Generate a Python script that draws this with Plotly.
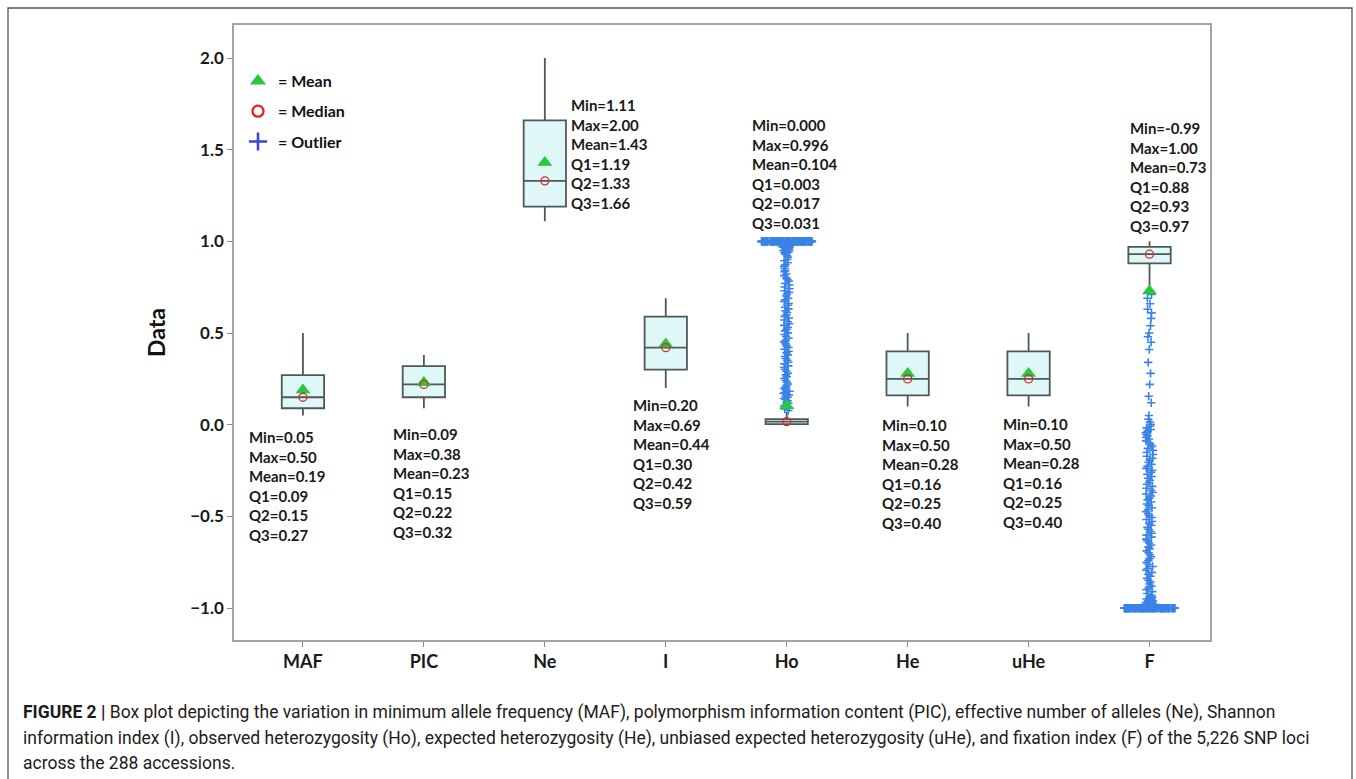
import plotly.graph_objects as go
import numpy as np

categories = ["MAF", "PIC", "Ne", "I", "Ho", "He", "uHe", "F"]

box_q1 = [0.09, 0.15, 1.19, 0.30, 0.003, 0.16, 0.16, 0.88]
box_median = [0.15, 0.22, 1.33, 0.42, 0.017, 0.25, 0.25, 0.93]
box_q3 = [0.27, 0.32, 1.66, 0.59, 0.031, 0.40, 0.40, 0.97]
whisker_low = [0.05, 0.09, 1.11, 0.20, 0.000, 0.10, 0.10, 0.75]
whisker_high = [0.50, 0.38, 2.00, 0.69, 0.07, 0.50, 0.50, 1.00]
means = [0.19, 0.23, 1.43, 0.44, 0.104, 0.28, 0.28, 0.73]

stat_min = ["0.05", "0.09", "1.11", "0.20", "0.000", "0.10", "0.10", "-0.99"]
stat_max = ["0.50", "0.38", "2.00", "0.69", "0.996", "0.50", "0.50", "1.00"]
stat_mean = ["0.19", "0.23", "1.43", "0.44", "0.104", "0.28", "0.28", "0.73"]
stat_q1 = ["0.09", "0.15", "1.19", "0.30", "0.003", "0.16", "0.16", "0.88"]
stat_q2 = ["0.15", "0.22", "1.33", "0.42", "0.017", "0.25", "0.25", "0.93"]
stat_q3 = ["0.27", "0.32", "1.66", "0.59", "0.031", "0.40", "0.40", "0.97"]

# Outliers, tied clusters given as value/count
ho_tie_values = [1.00, 0.99, 0.98, 0.97, 0.96, 0.95, 0.94]
ho_tie_counts = [130, 9, 7, 5, 4, 3, 2]
ho_column = [0.932, 0.921, 0.913, 0.902, 0.894, 0.883, 0.872, 0.864, 0.853, 0.842,
             0.834, 0.822, 0.813, 0.801, 0.792, 0.783, 0.771, 0.762, 0.751, 0.742,
             0.731, 0.722, 0.711, 0.702, 0.690, 0.681, 0.672, 0.661, 0.652, 0.641,
             0.632, 0.621, 0.612, 0.600, 0.591, 0.582, 0.571, 0.562, 0.551, 0.542,
             0.530, 0.521, 0.512, 0.501, 0.492, 0.481, 0.472, 0.461, 0.452, 0.441,
             0.430, 0.421, 0.412, 0.401, 0.392, 0.381, 0.372, 0.361, 0.352, 0.341,
             0.332, 0.321, 0.312, 0.301, 0.292, 0.281, 0.272, 0.261, 0.252, 0.241,
             0.232, 0.222, 0.214, 0.205, 0.198, 0.190, 0.183, 0.176, 0.170, 0.163,
             0.157, 0.150, 0.144, 0.138, 0.131, 0.124, 0.117, 0.110, 0.102, 0.094,
             0.086, 0.078]

f_tie_values = [-1.00, -0.99, -0.98, -0.97, -0.96, -0.95, -0.94]
f_tie_counts = [130, 9, 7, 5, 4, 3, 2]
f_column = [0.71, 0.69, 0.66, 0.63, 0.61, 0.58, 0.54, 0.50, 0.48, 0.45,
            0.41, 0.34, 0.28, 0.22, 0.155, 0.12, 0.05, 0.03, 0.015,
            0.002, -0.008, -0.017, -0.026, -0.035, -0.044, -0.052, -0.061, -0.070, -0.078,
            -0.088, -0.097, -0.107, -0.118, -0.129, -0.140, -0.151, -0.162, -0.172, -0.183,
            -0.194, -0.205, -0.216, -0.227, -0.238, -0.249, -0.260, -0.271, -0.282, -0.292,
            -0.303, -0.314, -0.325, -0.336, -0.346, -0.357, -0.368, -0.378, -0.389, -0.400,
            -0.410, -0.421, -0.432, -0.442, -0.453, -0.464, -0.474, -0.485, -0.496, -0.506,
            -0.517, -0.528, -0.538, -0.549, -0.560, -0.570, -0.581, -0.592, -0.602, -0.613,
            -0.624, -0.634, -0.645, -0.656, -0.666, -0.677, -0.688, -0.698, -0.709, -0.720,
            -0.730, -0.741, -0.752, -0.762, -0.773, -0.784, -0.794, -0.805, -0.816, -0.826,
            -0.837, -0.848, -0.858, -0.869, -0.880, -0.890, -0.900, -0.910, -0.920, -0.930]

caption_lines = [
    "<b>FIGURE 2 |</b> Box plot depicting the variation in minimum allele frequency (MAF), polymorphism information content (PIC), effective number of alleles (Ne), Shannon",
    "information index (I), observed heterozygosity (Ho), expected heterozygosity (He), unbiased expected heterozygosity (uHe), and fixation index (F) of the 5,226 SNP loci",
    "across the 288 accessions.",
]

W, H = 1356, 779
ML, MR, MT, MB = 234, 146, 25, 139
PW, PH = W - ML - MR, H - MT - MB


def px_x(px):
    return (px - ML) / PW


def px_y(py):
    return 1 - (py - MT) / PH


FONT = "Lato"
BLUE = "#3a83e6"

fig = go.Figure()

fig.add_trace(go.Box(
    x=categories, q1=box_q1, median=box_median, q3=box_q3,
    lowerfence=whisker_low, upperfence=whisker_high,
    width=0.35, whiskerwidth=0, fillcolor="#dff7f7",
    line=dict(color="#4f5858", width=1.8), boxpoints=False,
    showlegend=False, hoverinfo="skip",
))


def outlier_trace(cat, values, jitter):
    return go.Box(
        x=[cat] * len(values), y=values, boxpoints="all", jitter=jitter,
        pointpos=0, width=0.42, fillcolor="rgba(0,0,0,0)",
        line=dict(width=0, color="rgba(0,0,0,0)"),
        marker=dict(symbol="cross-thin", size=6, color=BLUE,
                    line=dict(width=1.6, color=BLUE)),
        showlegend=False, hoverinfo="skip",
    )


fig.add_trace(outlier_trace("Ho", list(np.repeat(ho_tie_values, ho_tie_counts)), 1.0))
fig.add_trace(outlier_trace("Ho", ho_column, 0.13))
fig.add_trace(outlier_trace("F", list(np.repeat(f_tie_values, f_tie_counts)), 1.0))
fig.add_trace(outlier_trace("F", f_column, 0.15))

fig.add_trace(go.Scatter(
    x=categories, y=means, mode="markers", showlegend=False, hoverinfo="skip",
    marker=dict(symbol="triangle-up", size=13, color="#25c93c"),
))
fig.add_trace(go.Scatter(
    x=categories, y=box_median, mode="markers", showlegend=False, hoverinfo="skip",
    marker=dict(symbol="circle-open", size=8, color="#e0262b", line=dict(width=1.3)),
))

# legend-only entries
fig.add_trace(go.Scatter(x=[None], y=[None], mode="markers", name="= Mean",
                         legendgroup="a",
                         marker=dict(symbol="triangle-up", size=14, color="#25c93c")))
fig.add_trace(go.Scatter(x=[None], y=[None], mode="markers", name="= Median",
                         legendgroup="b",
                         marker=dict(symbol="circle-open", size=11, color="#ec1c24",
                                     line=dict(width=2.3))))
fig.add_trace(go.Scatter(x=[None], y=[None], mode="markers", name="= Outlier",
                         legendgroup="c",
                         marker=dict(symbol="cross-thin", size=13, color="#3a48cc",
                                     line=dict(width=2.6, color="#3a48cc"))))

# stats annotations (left x px, first-line center y px)
label_pos = [(249, 437), (393, 434), (571, 105), (633, 405),
             (752, 125), (882, 425), (1003, 424), (1130, 128)]
annotations = []
for i, cat in enumerate(categories):
    txt = "<br>".join([
        f"Min={stat_min[i]}", f"Max={stat_max[i]}", f"Mean={stat_mean[i]}",
        f"Q1={stat_q1[i]}", f"Q2={stat_q2[i]}", f"Q3={stat_q3[i]}",
    ])
    lx, ly = label_pos[i]
    annotations.append(dict(
        x=px_x(lx - 2), y=px_y(ly - 11), xref="paper", yref="paper",
        xanchor="left", yanchor="top", align="left", showarrow=False,
        text=txt, font=dict(family=FONT, size=15, color="#1a1a1a", weight="bold"),
    ))

cap_y = [712, 738, 763]
for line, cy in zip(caption_lines, cap_y):
    annotations.append(dict(
        x=px_x(21), y=px_y(cy), xref="paper", yref="paper",
        xanchor="left", yanchor="middle", align="left", showarrow=False,
        text=line, font=dict(family="Roboto", size=17.5, color="#1f1b1c"),
    ))

fig.update_layout(
    width=W, height=H,
    margin=dict(l=ML, r=MR, t=MT, b=MB, pad=0),
    paper_bgcolor="white", plot_bgcolor="white",
    boxmode="overlay",
    showlegend=True,
    legend=dict(x=px_x(238), y=px_y(64), xanchor="left", yanchor="top",
                traceorder="grouped", tracegroupgap=6.5,
                bgcolor="rgba(0,0,0,0)",
                font=dict(family=FONT, size=16, color="#111111", weight="bold")),
    annotations=annotations,
    shapes=[dict(type="rect", xref="paper", yref="paper",
                 x0=px_x(8), x1=px_x(1352), y0=px_y(790), y1=px_y(8),
                 line=dict(color="#555555", width=1.3), layer="below")],
    xaxis=dict(
        type="category", categoryorder="array", categoryarray=categories,
        range=[-0.57, 7.5], showgrid=False, zeroline=False,
        showline=True, mirror=True, linecolor="#a3a3a3", linewidth=1.6,
        ticks="outside", ticklen=5, tickcolor="#8a8a8a", tickwidth=1.4,
        tickfont=dict(family=FONT, size=18, color="#1a1a1a", weight="bold"),
    ),
    yaxis=dict(
        range=[-1.174, 2.18], tick0=0, dtick=0.5, tickformat=".1f",
        showgrid=False, zeroline=False,
        showline=True, mirror=True, linecolor="#a3a3a3", linewidth=1.6,
        ticks="outside", ticklen=5, tickcolor="#8a8a8a", tickwidth=1.4,
        tickfont=dict(family=FONT, size=17, color="#1a1a1a", weight="bold"),
        title=dict(text="Data", standoff=18,
                   font=dict(family=FONT, size=23, color="#111111", weight="bold")),
    ),
)

fig.write_html("out.html")
